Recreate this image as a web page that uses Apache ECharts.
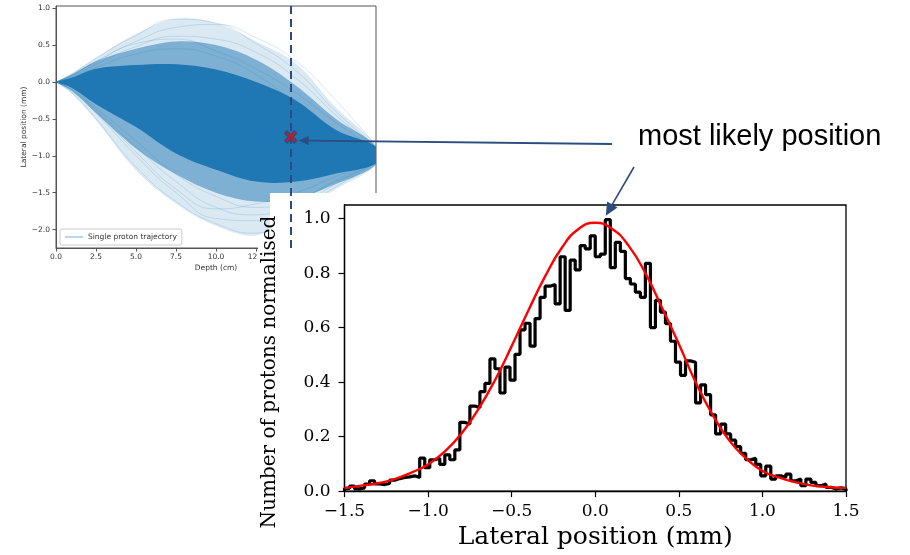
<!DOCTYPE html>
<html>
<head>
<meta charset="utf-8">
<script src="https://cdn.jsdelivr.net/npm/echarts@6/dist/echarts.min.js"></script>
<style>
html, body { margin: 0; padding: 0; background: #fff; }
#container { width: 910px; height: 555px; }
</style>
</head>
<body>
<div id="container"></div>
<script>
// left panel: simulated proton paths (lateral position vs depth)
const depth = [0, 1, 2.5, 5, 7.5, 10, 12.5, 15, 17.5, 20]
const outerUpper = [0, 0.12, 0.33, 0.65, 0.86, 0.80, 0.55, 0.25, -0.35, -0.86]
const outerLower = [0, -0.16, -0.52, -1.20, -1.65, -1.95, -2.08, -1.78, -1.45, -1.12]
const midUpper = [0, 0.10, 0.28, 0.45, 0.55, 0.50, 0.30, -0.05, -0.50, -0.87]
const midLower = [0, -0.12, -0.42, -0.90, -1.25, -1.50, -1.62, -1.58, -1.38, -1.12]
const coreUpper = [0, 0.06, 0.18, 0.23, 0.24, 0.17, 0.0, -0.25, -0.65, -0.88]
const coreLower = [0, -0.08, -0.30, -0.61, -0.97, -1.19, -1.35, -1.35, -1.24, -1.10]

const trackA = [0, 0.11, 0.32, 0.63, 0.85, 0.80, 0.52, 0.15, -0.40, -0.88]
const trackB = [0, 0.10, 0.28, 0.55, 0.74, 0.78, 0.60, 0.28, -0.25, -0.86]
const trackC = [0, 0.08, 0.24, 0.48, 0.62, 0.58, 0.40, 0.05, -0.45, -0.90]
const trackD = [0, 0.09, 0.27, 0.52, 0.58, 0.42, 0.18, -0.15, -0.55, -0.92]
const trackE = [0, -0.15, -0.50, -1.15, -1.62, -1.92, -2.05, -1.75, -1.42, -1.10]
const trackF = [0, -0.13, -0.42, -1.00, -1.50, -1.85, -1.88, -1.70, -1.38, -1.09]
const trackG = [0, -0.11, -0.38, -0.88, -1.35, -1.70, -1.80, -1.62, -1.33, -1.08]
const trackH = [0, -0.12, -0.40, -0.95, -1.45, -1.72, -1.65, -1.50, -1.28, -1.07]
const trackI = [0, 0.07, 0.20, 0.38, 0.45, 0.35, 0.10, -0.30, -0.70, -0.95]
const trackJ = [0, -0.10, -0.35, -0.80, -1.25, -1.55, -1.70, -1.60, -1.35, -1.10]
const tracks = [trackA, trackB, trackC, trackD, trackE, trackF, trackG, trackH, trackI, trackJ]

const lateralTicks = [-2, -1.5, -1, -0.5, 0, 0.5, 1]
const mostLikely = [14.67, -0.745]

// right panel: histogram of lateral position at that depth
const binStart = -1.5
const binWidth = 0.03
const counts = [
    0.010, 0.018, 0.008, 0.012, 0.026, 0.038, 0.026, 0.024, 0.028, 0.040,
    0.046, 0.050, 0.052, 0.056, 0.050, 0.121, 0.086, 0.115, 0.121, 0.098,
    0.133, 0.115, 0.151, 0.252, 0.246, 0.312, 0.306, 0.365, 0.395, 0.485,
    0.449, 0.360, 0.455, 0.407, 0.502, 0.592, 0.616, 0.532, 0.633, 0.711,
    0.752, 0.758, 0.687, 0.860, 0.663, 0.848, 0.812, 0.901, 0.889, 0.937,
    0.860, 0.870, 0.996, 0.820, 0.913, 0.880, 0.780, 0.760, 0.730, 0.711,
    0.836, 0.600, 0.700, 0.657, 0.615, 0.550, 0.473, 0.425, 0.478, 0.473,
    0.324, 0.390, 0.354, 0.280, 0.210, 0.246, 0.210, 0.187, 0.163, 0.139,
    0.115, 0.120, 0.098, 0.056, 0.092, 0.044, 0.056, 0.050, 0.062, 0.038,
    0.044, 0.020, 0.044, 0.032, 0.020, 0.026, 0.014, 0.008, 0.012, 0.008
]
const fitX = [-1.5, -1.4, -1.3, -1.2, -1.1, -1.0, -0.9, -0.8, -0.7, -0.6, -0.5, -0.4, -0.3, -0.2, -0.1,
    0.0, 0.1, 0.2, 0.3, 0.4, 0.5, 0.6, 0.7, 0.8, 0.9, 1.0, 1.1, 1.2, 1.3, 1.4, 1.5]
const fitY = [0.011, 0.020, 0.029, 0.044, 0.068, 0.098, 0.145, 0.211, 0.300, 0.407, 0.532, 0.663, 0.788, 0.893, 0.962,
    0.985, 0.963, 0.900, 0.800, 0.672, 0.540, 0.400, 0.282, 0.187, 0.121, 0.074, 0.050, 0.032, 0.020, 0.014, 0.012]
const histYTicks = [0, 0.2, 0.4, 0.6, 0.8, 1.0]

const blue = "#1f77b4"
const arrowBlue = "#2b4c7e"
const fmt = v => (v < 0 ? "\u2212" : "") + Math.abs(v).toFixed(1)

let chart = echarts.init(document.getElementById("container"), null, { renderer: "canvas" })

// density bands of the trajectory bundle, outermost first
const bands = [
    { lower: outerLower, upper: outerUpper, color: "rgba(31,119,180,0.16)" },
    { lower: midLower, upper: midUpper, color: "rgba(31,119,180,0.5)" },
    { lower: coreLower, upper: coreUpper, color: blue }
]

function renderBand(params, api) {
    let b = bands[api.value(0)]
    let top = depth.map((d, i) => api.coord([d, b.upper[i]]))
    let bottom = depth.map((d, i) => api.coord([d, b.lower[i]])).reverse()
    return {
        type: "polygon",
        shape: { points: top.concat(bottom), smooth: 0.35 },
        style: { fill: b.color },
        silent: true
    }
}

let histData = [[binStart, 0]]
counts.forEach((c, k) => histData.push([binStart + k * binWidth, c]))
histData.push([binStart + counts.length * binWidth, counts[counts.length - 1]])
histData.push([binStart + counts.length * binWidth, 0])

let series = [{
    type: "custom", xAxisIndex: 0, yAxisIndex: 0, renderItem: renderBand,
    data: bands.map((b, i) => [i]), clip: true, silent: true, z: 1
}]
tracks.forEach(t => {
    series.push({
        name: "Single proton trajectory", type: "line", xAxisIndex: 0, yAxisIndex: 0,
        data: depth.map((d, i) => [d, t[i]]), symbol: "none", smooth: true,
        lineStyle: { color: "rgba(31,119,180,0.22)", width: 0.8 }, silent: true, z: 2
    })
})
series.push({
    type: "line", xAxisIndex: 1, yAxisIndex: 1, data: histData, step: "end",
    symbol: "none", lineStyle: { color: "#000", width: 3.2 }, silent: true, z: 7
})
series.push({
    type: "line", xAxisIndex: 1, yAxisIndex: 1, data: fitX.map((x, i) => [x, fitY[i]]),
    smooth: 0.5, symbol: "none", lineStyle: { color: "#f00", width: 2.4 }, silent: true, z: 8
})
series.push({
    type: "scatter", xAxisIndex: 0, yAxisIndex: 0, data: [mostLikely],
    symbol: "path://M2,0 L5,3 L8,0 L10,2 L7,5 L10,8 L8,10 L5,7 L2,10 L0,8 L3,5 L0,2 Z",
    symbolSize: 12, itemStyle: { color: "#f00", borderColor: arrowBlue, borderWidth: 1.6 },
    markLine: {
        symbol: "none", silent: true, label: { show: false },
        lineStyle: { type: [8, 5], color: arrowBlue, width: 2 },
        data: [{ xAxis: mostLikely[0] }]
    },
    silent: true, z: 9
})

let leftAxisStyle = { color: "#555", width: 1 }
let serifFont = "DejaVu Serif"

let options = {
    animation: false,
    backgroundColor: "#fff",
    grid: [
        { left: 56, top: 6, width: 320, height: 242, show: true, borderColor: "#555", borderWidth: 1, z: 0 },
        { left: 344.5, top: 205, width: 501.5, height: 294, show: true, backgroundColor: "#fff", borderColor: "#000", borderWidth: 1.3, z: 6 }
    ],
    legend: {
        left: 60, top: 229, z: 4,
        data: [{ name: "Single proton trajectory", icon: "rect", itemStyle: { color: "rgba(31,119,180,0.5)" } }],
        itemWidth: 18, itemHeight: 1.2, padding: [4, 5],
        textStyle: { fontFamily: "DejaVu Sans", fontSize: 7.5, color: "#333" },
        borderColor: "#ccc", borderWidth: 1, borderRadius: 2, backgroundColor: "#fff"
    },
    xAxis: [{
        type: "value", gridIndex: 0, min: 0, max: 20, interval: 2.5, z: 0,
        axisLine: { onZero: false, lineStyle: leftAxisStyle },
        axisTick: { length: 3.5, lineStyle: leftAxisStyle },
        axisLabel: { fontFamily: "DejaVu Sans", fontSize: 7.5, color: "#333", margin: 5, formatter: fmt },
        splitLine: { show: false },
        name: "Depth (cm)", nameLocation: "middle", nameGap: 16,
        nameTextStyle: { fontFamily: "DejaVu Sans", fontSize: 7.5, color: "#333" }
    }, {
        type: "value", gridIndex: 1, min: -1.5, max: 1.5, interval: 0.5, z: 6,
        axisLine: { onZero: false, lineStyle: { color: "#000", width: 1.3 } },
        axisTick: { length: 6, lineStyle: { color: "#000", width: 1.2 } },
        axisLabel: { fontFamily: serifFont, fontSize: 17, color: "#000", margin: 12, formatter: fmt },
        splitLine: { show: false },
        name: "Lateral position (mm)", nameLocation: "middle", nameGap: 32,
        nameTextStyle: { fontFamily: serifFont, fontSize: 25, color: "#000" }
    }],
    yAxis: [{
        type: "value", gridIndex: 0, min: -2.25, max: 1.03, z: 0,
        axisLine: { show: true, onZero: false, lineStyle: leftAxisStyle },
        axisTick: { show: true, length: 3.5, lineStyle: leftAxisStyle, customValues: lateralTicks },
        axisLabel: { fontFamily: "DejaVu Sans", fontSize: 7.5, color: "#333", margin: 6, formatter: fmt, customValues: lateralTicks },
        splitLine: { show: false },
        name: "Lateral position (mm)", nameLocation: "middle", nameGap: 28,
        nameTextStyle: { fontFamily: "DejaVu Sans", fontSize: 7.5, color: "#333" }
    }, {
        type: "value", gridIndex: 1, min: 0, max: 1.05, z: 6,
        axisLine: { show: true, onZero: false, lineStyle: { color: "#000", width: 1.3 } },
        axisTick: { show: true, length: 6, lineStyle: { color: "#000", width: 1.2 }, customValues: histYTicks },
        axisLabel: { fontFamily: serifFont, fontSize: 17, color: "#000", margin: 14, formatter: fmt, customValues: histYTicks },
        splitLine: { show: false }
    }],
    graphic: [{
        // white panel of the histogram figure lying over the trajectory plot
        type: "polygon", id: "cover", z: 5, silent: true,
        shape: { points: [[270, 193], [910, 193], [910, 555], [258, 555], [258, 247], [270, 247]] },
        style: { fill: "#fff" }
    }],
    series: series
}
chart.setOption(options)

function arrow(id, from, to, width, headLen, headHalf) {
    let dx = to[0] - from[0], dy = to[1] - from[1]
    let len = Math.hypot(dx, dy)
    let ux = dx / len, uy = dy / len
    let bx = to[0] - ux * headLen, by = to[1] - uy * headLen
    return [{
        type: "line", id: id + "-shaft", z: 10, silent: true,
        shape: { x1: from[0], y1: from[1], x2: bx, y2: by },
        style: { stroke: arrowBlue, lineWidth: width }
    }, {
        type: "polygon", id: id + "-head", z: 10, silent: true,
        shape: { points: [[to[0], to[1]], [bx - uy * headHalf, by + ux * headHalf], [bx + uy * headHalf, by - ux * headHalf]] },
        style: { fill: arrowBlue }
    }]
}

let markerPx = chart.convertToPixel({ xAxisIndex: 0, yAxisIndex: 0 }, mostLikely)
let peakIdx = counts.indexOf(Math.max(...counts))
let peakPx = chart.convertToPixel({ xAxisIndex: 1, yAxisIndex: 1 }, [binStart + (peakIdx + 0.5) * binWidth, counts[peakIdx]])

let notes = []
notes = notes.concat(arrow("a1", [612, 144], [markerPx[0] + 8, markerPx[1] + 3.5], 1.8, 10, 4.5))
notes = notes.concat(arrow("a2", [634, 167], [peakPx[0] - 2, peakPx[1] - 4], 1.6, 13, 6))
notes.push({
    type: "text", id: "label", z: 10, silent: true, x: 638, y: 137,
    style: { text: "most likely position", font: "29px 'Liberation Sans'", fill: "#000", textVerticalAlign: "middle" }
})
notes.push({
    type: "text", id: "hist-ylabel", z: 10, silent: true, x: 270, y: 372, rotation: Math.PI / 2,
    style: { text: "Number of protons normalised", font: "20px 'DejaVu Serif'", fill: "#000", textAlign: "center", textVerticalAlign: "middle" }
})
chart.setOption({ graphic: notes })
</script>
</body>
</html>
